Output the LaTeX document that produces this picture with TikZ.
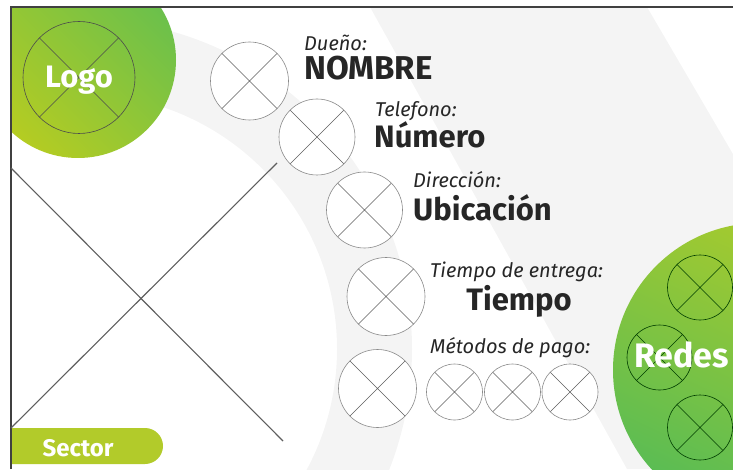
\documentclass[tikz,border=0pt]{standalone}
\usepackage{fontspec}
\setmainfont{Fira Sans}
\definecolor{bandgray}{HTML}{F4F4F4}
\definecolor{txt}{HTML}{262626}
\definecolor{logogreen}{HTML}{6AC04C}
\definecolor{logoyellow}{HTML}{B5CC22}
\definecolor{redestop}{HTML}{A9CB2C}
\definecolor{redesbot}{HTML}{58BC55}
\definecolor{sectorgreen}{HTML}{B2CB2A}
\definecolor{circline}{HTML}{8A8A8A}
\definecolor{xline}{HTML}{5E5E5E}
\tikzset{
  xcirc/.style={circle, draw=circline, fill=white, line width=0.6pt, inner sep=0pt, minimum size=#1,
    path picture={\draw[xline, line width=0.6pt] (path picture bounding box.north west) -- (path picture bounding box.south east)
      (path picture bounding box.south west) -- (path picture bounding box.north east);}},
  gcirc/.style={circle, draw=black!60!green!60!black, line width=0.6pt, inner sep=0pt, minimum size=#1,
    path picture={\draw[black!60!green!60!black, line width=0.6pt] (path picture bounding box.north west) -- (path picture bounding box.south east)
      (path picture bounding box.south west) -- (path picture bounding box.north east);}},
  lab/.style={anchor=base west, inner sep=0pt, text=txt, font=\itshape\fontsize{20}{22}\selectfont},
  val/.style={anchor=base west, inner sep=0pt, text=txt, font=\bfseries\fontsize{31}{34}\selectfont},
  wlab/.style={anchor=base, inner sep=0pt, text=white, font=\bfseries\fontsize{#1}{#1}\selectfont},
  bigx/.style={draw=xline, line width=1.1pt},
  frameline/.style={draw=black!75, line width=1.3pt}
}
\begin{document}
\begin{tikzpicture}[x=1pt,y=1pt]
\useasboundingbox (0,0) rectangle (733,469);
\begin{scope}
\clip (11,0) rectangle (733,462);
% background
\fill[bandgray, even odd rule] (82,120) circle[radius=330] (82,120) circle[radius=255];
\fill[bandgray] (370,462) -- (647,462) -- (917,0) -- (627,0) -- cycle;
% green circles
\shade[top color=logogreen, bottom color=logoyellow, shading angle=-45] (78,409) circle[radius=98];
\shade[top color=redestop, bottom color=redesbot, shading angle=-25] (760,99) circle[radius=147];
% sector tab
\fill[sectorgreen] (0,41) -- (145,41) arc[start angle=90,end angle=-90,radius=18] -- (0,5) -- cycle;
\end{scope}
% frame
\coordinate (ftl) at (11,462);
\coordinate (ftr) at (733,462);
\coordinate (fbl) at (11,0);
\draw[frameline] (fbl) -- (ftl) -- (ftr);
% big placeholder X
\coordinate (xa) at (11,301);
\coordinate (xb) at (283,28);
\coordinate (xc) at (11,41);
\coordinate (xd) at (277,306);
\draw[bigx] (xa) -- (xb);
\draw[bigx] (xc) -- (xd);
% logo
\node[gcirc=112pt, draw=black!70, path picture={\draw[black!70, line width=0.6pt] (path picture bounding box.north west) -- (path picture bounding box.south east) (path picture bounding box.south west) -- (path picture bounding box.north east);}] (logoc) at (79,391.5) {};
\node[wlab=31] (logo) at (79,381) {Logo};
% redes
\node[gcirc=65pt] (r1) at (700,181.5) {};
\node[gcirc=65pt] (r2) at (659.5,111.5) {};
\node[gcirc=65pt] (r3) at (700,41.5) {};
\node[wlab=34] (redes) at (681.5,102) {Redes};
% sector text
\node[wlab=24] (sector) at (78,13) {Sector};
% icon circles
\node[xcirc=78pt] (c1) at (249.5,388) {};
\node[xcirc=76pt] (c2) at (317,332) {};
\node[xcirc=76pt] (c3) at (364.5,259) {};
\node[xcirc=78pt] (c4) at (386,172.5) {};
\node[xcirc=78pt] (c5) at (377.5,80.5) {};
\node[xcirc=56pt] (p1) at (454.5,77) {};
\node[xcirc=56pt] (p2) at (512.5,77) {};
\node[xcirc=56pt] (p3) at (570,77) {};
% texts
\node[lab] (l1) at (304,418) {Dueño:};
\node[val, font=\bfseries\fontsize{33}{36}\selectfont] (v1) at (304,389) {NOMBRE};
\node[lab] (l2) at (375,352) {Telefono:};
\node[val] (v2) at (374,321) {Número};
\node[lab] (l3) at (413,281) {Dirección:};
\node[val] (v3) at (413,248) {Ubicación};
\node[lab] (l4) at (430,192) {Tiempo de entrega:};
\node[val, anchor=base] (v4) at (519,159) {Tiempo};
\node[lab] (l5) at (430,116) {Métodos de pago:};
\end{tikzpicture}
\end{document}
